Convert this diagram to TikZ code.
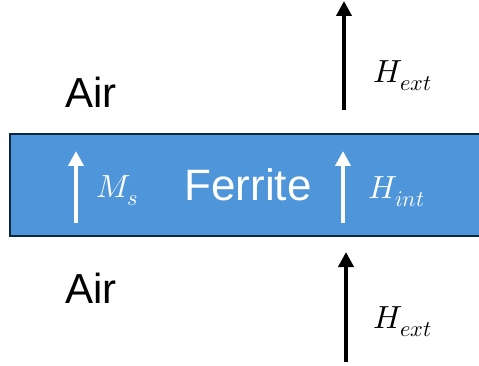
\documentclass[tikz,border=0pt]{standalone}
\usepackage{unicode-math}
\setmainfont{Liberation Sans}
\setmathfont{Latin Modern Math}
\usetikzlibrary{arrows.meta,positioning}
\definecolor{slabblue}{HTML}{4E95D9}
\definecolor{slabedge}{HTML}{0E2841}

\begin{document}
\begin{tikzpicture}[x=1pt,y=1pt,>={Triangle[length=15pt,width=15pt]}]
\useasboundingbox (0,0) rectangle (479,-366);
\tikzset{field/.style={->,line width=4.5pt},lbl/.style={font=\fontsize{42}{42}\selectfont},sym/.style={font=\fontsize{32}{32}\selectfont,anchor=west}}
% ferrite slab, open to the right
\fill[slabblue] (10,-134) rectangle (479,-236);
\draw[slabedge,line width=2pt] (479,-134)--(10,-134)--(10,-236)--(479,-236);
\node[lbl] (airtop) at (91,-92) {Air};
\node[lbl] (airbot) at (91,-288) {Air};
\node[lbl,white,font=\fontsize{44}{44}\selectfont] (ferrite) at (248,-185) {Ferrite};
% fields outside the slab
\coordinate (topbase) at (344,-110);\coordinate (toptip) at (344,-1);
\coordinate (botbase) at (346,-362);\coordinate (bottip) at (346,-252);
\draw[field] (topbase)--(toptip);\draw[field] (botbase)--(bottip);
\node[sym] (hexttop) at (370,-76) {$H_{ext}$};
\node[sym] (hextbot) at (370,-322) {$H_{ext}$};
% inside the slab
\coordinate (msbase) at (76,-223);\coordinate (mstip) at (76,-151);
\coordinate (hintbase) at (343,-223);\coordinate (hinttip) at (343,-151);
\draw[field,white] (msbase)--(mstip);\draw[field,white] (hintbase)--(hinttip);
\node[sym,white] (ms) at (93,-191) {$M_s$};
\node[sym,white] (hint) at (365,-192) {$H_{int}$};
\end{tikzpicture}
\end{document}
